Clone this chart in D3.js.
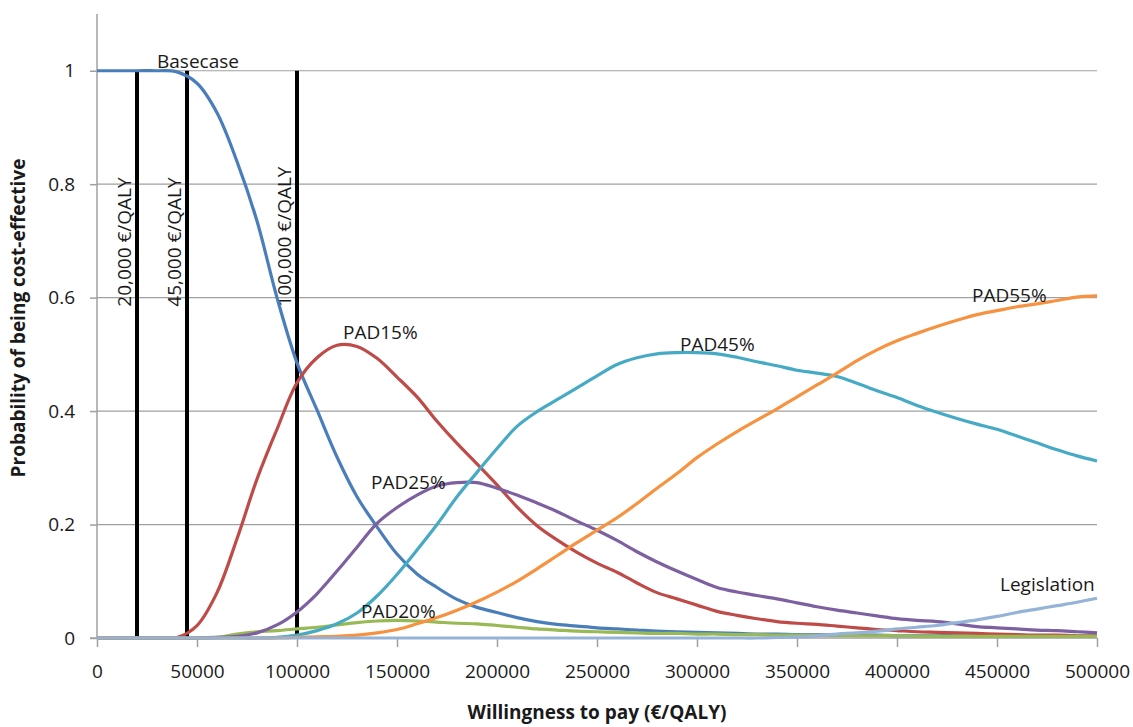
<!DOCTYPE html>
<html>
<script src="https://d3js.org/d3.v7.min.js"></script>
<head>
  <title>Cost-effectiveness acceptability curves</title>
  <style>
    body { margin: 0; background: #fff; }
    text { font-family: "Open Sans", "Liberation Sans", sans-serif; fill: #1a1a1a; }
  </style>
</head>
<body>
  <div id="canvas"></div>

  <script>
    // Willingness to pay (EUR/QALY)
    var wtp = [0, 10000, 20000, 30000, 40000, 50000, 60000, 70000, 80000, 90000,
      100000, 110000, 120000, 130000, 140000, 150000, 160000, 170000, 180000, 190000,
      200000, 210000, 220000, 230000, 240000, 250000, 260000, 270000, 280000, 290000,
      300000, 310000, 320000, 330000, 340000, 350000, 360000, 370000, 380000, 390000,
      400000, 410000, 420000, 430000, 440000, 450000, 460000, 470000, 480000, 490000, 500000];

    var basecase = [1, 1, 1, 1, 0.998, 0.978, 0.926, 0.84, 0.735, 0.6,
      0.485, 0.402, 0.319, 0.249, 0.196, 0.148, 0.113, 0.089, 0.068, 0.054,
      0.045, 0.036, 0.029, 0.024, 0.021, 0.018, 0.016, 0.014, 0.012, 0.011,
      0.010, 0.009, 0.008, 0.007, 0.007, 0.006, 0.006, 0.005, 0.005, 0.005,
      0.004, 0.004, 0.004, 0.004, 0.003, 0.003, 0.003, 0.003, 0.003, 0.003, 0.003];

    var pad15 = [0, 0, 0, 0, 0.001, 0.022, 0.08, 0.175, 0.28, 0.368,
      0.45, 0.494, 0.516, 0.514, 0.493, 0.46, 0.425, 0.382, 0.343, 0.307,
      0.27, 0.231, 0.198, 0.173, 0.151, 0.132, 0.116, 0.097, 0.08, 0.069,
      0.058, 0.047, 0.04, 0.034, 0.029, 0.026, 0.024, 0.021, 0.018, 0.015,
      0.013, 0.011, 0.01, 0.009, 0.008, 0.007, 0.006, 0.005, 0.005, 0.004, 0.004];

    var pad20 = [0, 0, 0, 0, 0, 0, 0.001, 0.007, 0.011, 0.013,
      0.016, 0.019, 0.023, 0.027, 0.03, 0.031, 0.03, 0.028, 0.026, 0.025,
      0.022, 0.019, 0.016, 0.014, 0.012, 0.011, 0.01, 0.009, 0.008, 0.008,
      0.007, 0.007, 0.006, 0.006, 0.005, 0.005, 0.005, 0.005, 0.004, 0.004,
      0.004, 0.003, 0.003, 0.003, 0.003, 0.003, 0.003, 0.003, 0.003, 0.003, 0.003];

    var pad25 = [0, 0, 0, 0, 0, 0, 0.001, 0.003, 0.009, 0.023,
      0.046, 0.078, 0.118, 0.16, 0.202, 0.23, 0.252, 0.268, 0.274, 0.274,
      0.264, 0.252, 0.238, 0.223, 0.206, 0.19, 0.172, 0.152, 0.134, 0.118,
      0.103, 0.089, 0.081, 0.075, 0.069, 0.062, 0.055, 0.049, 0.044, 0.039,
      0.034, 0.031, 0.029, 0.025, 0.02, 0.018, 0.016, 0.014, 0.013, 0.011, 0.009];

    var pad45 = [0, 0, 0, 0, 0, 0, 0, 0, 0, 0.001,
      0.005, 0.013, 0.025, 0.044, 0.074, 0.112, 0.155, 0.2, 0.249, 0.292,
      0.334, 0.373, 0.399, 0.42, 0.441, 0.462, 0.482, 0.494, 0.501, 0.503,
      0.503, 0.501, 0.495, 0.487, 0.48, 0.472, 0.467, 0.461, 0.449, 0.436,
      0.424, 0.41, 0.398, 0.387, 0.377, 0.368, 0.356, 0.344, 0.332, 0.321, 0.312];

    var pad55 = [0, 0, 0, 0, 0, 0, 0, 0, 0, 0,
      0.001, 0.002, 0.003, 0.005, 0.009, 0.015, 0.025, 0.036, 0.049, 0.064,
      0.081, 0.1, 0.122, 0.145, 0.168, 0.19, 0.212, 0.237, 0.264, 0.29,
      0.318, 0.342, 0.364, 0.384, 0.404, 0.425, 0.446, 0.467, 0.489, 0.508,
      0.524, 0.537, 0.549, 0.56, 0.57, 0.577, 0.584, 0.589, 0.595, 0.601, 0.603];

    var legislation = [0, 0, 0, 0, 0, 0, 0, 0, 0, 0,
      0, 0, 0, 0, 0, 0, 0, 0, 0, 0,
      0, 0, 0, 0, 0, 0, 0, 0, 0, 0,
      0, 0, 0, 0, 0.001, 0.002, 0.004, 0.007, 0.009, 0.012,
      0.016, 0.019, 0.022, 0.027, 0.032, 0.038, 0.045, 0.051, 0.057, 0.063, 0.07];

    // thresholds drawn as vertical lines
    var thresholds = [20000, 45000, 100000];
    var thresholdLabels = ["20,000 €/QALY", "45,000 €/QALY", "100,000 €/QALY"];

    var xTicks = [0, 50000, 100000, 150000, 200000, 250000, 300000, 350000, 400000, 450000, 500000];
    var yTicks = [0, 0.2, 0.4, 0.6, 0.8, 1];

    var series = [
      { name: "Basecase", values: basecase, color: "#4A7EBB", lx: 30000, ly: 1.005 },
      { name: "PAD15%", values: pad15, color: "#BE4B48", lx: 123000, ly: 0.527 },
      { name: "PAD20%", values: pad20, color: "#98B954", lx: 132000, ly: 0.035 },
      { name: "PAD25%", values: pad25, color: "#7D60A0", lx: 137000, ly: 0.263 },
      { name: "PAD45%", values: pad45, color: "#46AAC5", lx: 291500, ly: 0.506 },
      { name: "PAD55%", values: pad55, color: "#F69240", lx: 437500, ly: 0.593 },
      { name: "Legislation", values: legislation, color: "#95B3D7", lx: 451500, ly: 0.082 }
    ];

    var W = 1133, H = 727;
    var svg = d3.select('#canvas')
      .append('svg')
        .attr('width', W)
        .attr('height', H);

    var x = d3.scaleLinear().domain([0, 500000]).range([97, 1097]);
    var y = d3.scaleLinear().domain([0, 1.1]).range([638, 14]);

    // gridlines
    svg.append("g")
      .selectAll("line")
      .data(yTicks.filter(function(d) { return d > 0; }))
      .enter()
      .append("line")
        .attr("x1", x(0)).attr("x2", x(500000))
        .attr("y1", function(d) { return y(d); })
        .attr("y2", function(d) { return y(d); })
        .attr("stroke", "#a0a0a0")
        .attr("stroke-width", 1.2);

    // axes
    var xAxis = svg.append("g")
      .attr("transform", `translate(0, ${y(0)})`)
      .call(d3.axisBottom(x).tickValues(xTicks).tickSize(9).tickPadding(18).tickFormat(d3.format("d")));
    var yAxis = svg.append("g")
      .attr("transform", `translate(${x(0)}, 0)`)
      .call(d3.axisLeft(y).tickValues(yTicks).tickSize(7).tickPadding(15).tickFormat(function(d) { return d3.format("")(d); }));

    [xAxis, yAxis].forEach(function(a) {
      a.select(".domain").attr("stroke", "#a0a0a0").attr("stroke-width", 1.5);
      a.selectAll(".tick line").attr("stroke", "#a0a0a0").attr("stroke-width", 1.5);
      a.selectAll(".tick text").style("font-size", "19px").attr("fill", "#1a1a1a");
    });
    // y axis runs up to 1.1 without a tick cap
    yAxis.select(".domain").attr("d", `M0,${y(1.1)}V${y(0)}`);
    xAxis.select(".domain").attr("d", `M${x(0) - 7},0H${x(500000)}`);

    // threshold lines
    svg.append("g")
      .selectAll("line")
      .data(thresholds)
      .enter()
      .append("line")
        .attr("x1", function(d) { return x(d); })
        .attr("x2", function(d) { return x(d); })
        .attr("y1", y(0)).attr("y2", y(1))
        .attr("stroke", "#000")
        .attr("stroke-width", 4);

    svg.append("g")
      .selectAll("text")
      .data(thresholds)
      .enter()
      .append("text")
        .text(function(d, i) { return thresholdLabels[i]; })
        .attr("transform", function(d) { return `translate(${x(d) - 6},${y(0.584)}) rotate(-90)`; })
        .style("font-size", "19px");

    // curves (smoothed like the spreadsheet lines)
    var line = d3.line()
      .x(function(d, i) { return x(wtp[i]); })
      .y(function(d) { return y(d); })
      .curve(d3.curveCatmullRom.alpha(0.5));

    svg.append("g")
      .selectAll("path")
      .data(series)
      .enter()
      .append("path")
        .attr("d", function(s) { return line(s.values); })
        .attr("fill", "none")
        .attr("stroke", function(s) { return s.color; })
        .attr("stroke-width", 3.2)
        .attr("stroke-linejoin", "round");

    // curve labels
    svg.append("g")
      .selectAll("text")
      .data(series)
      .enter()
      .append("text")
        .text(function(s) { return s.name; })
        .attr("x", function(s) { return x(s.lx); })
        .attr("y", function(s) { return y(s.ly); })
        .style("font-size", "19px");

    // axis titles
    svg.append("text")
      .text("Willingness to pay (€/QALY)")
        .attr("text-anchor", "middle")
        .attr("x", 597)
        .attr("y", 719)
        .style("font-size", "19px")
        .style("font-weight", "bold");

    svg.append("text")
      .text("Probability of being cost-effective")
        .attr("text-anchor", "middle")
        .attr("transform", `translate(25, 318) rotate(-90)`)
        .style("font-size", "19px")
        .style("font-weight", "bold");
  </script>
</body>
</html>
